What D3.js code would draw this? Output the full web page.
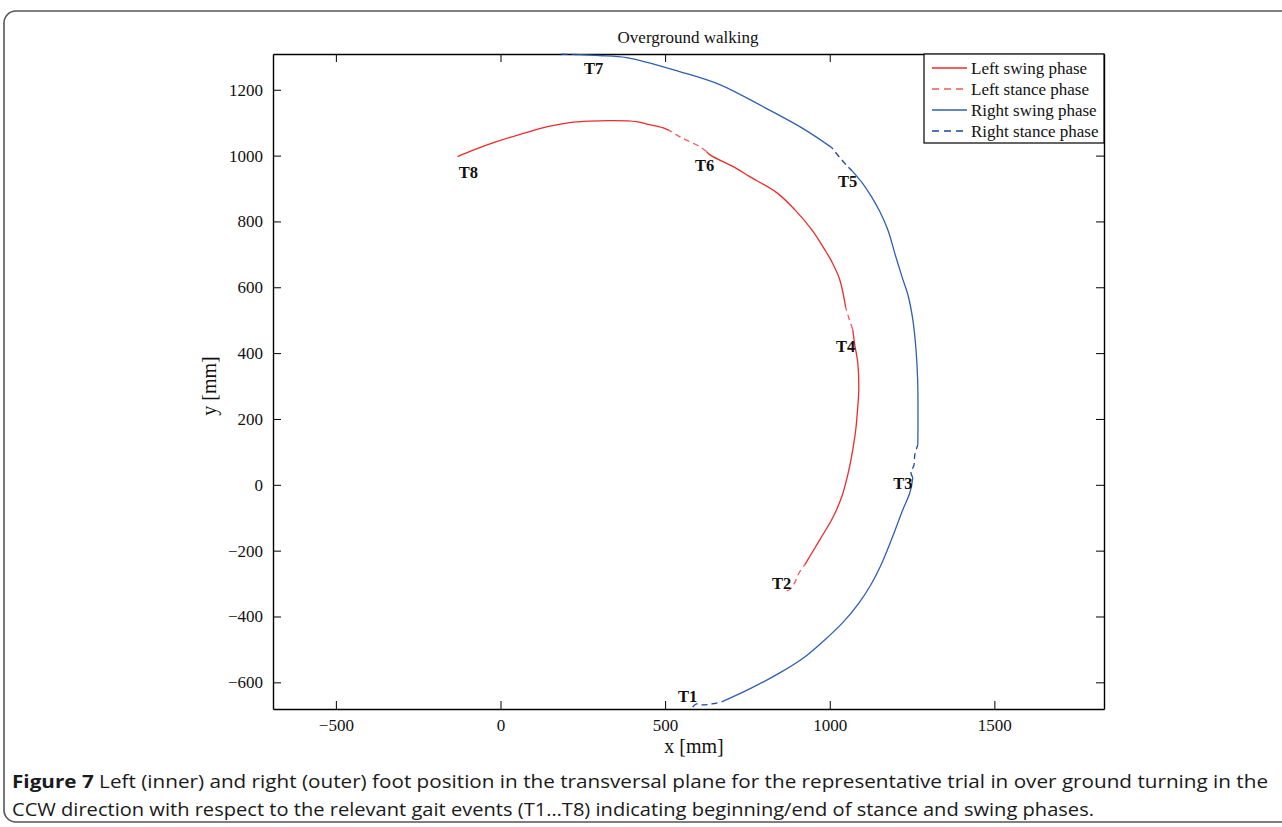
<!DOCTYPE html>
<html>
<head>
<meta charset="utf-8">
<script src="https://cdn.jsdelivr.net/npm/d3@7"></script>
<style>
  html, body { margin: 0; padding: 0; background: #fff; }
  svg { display: block; }
</style>
</head>
<body>
<svg id="chart" width="1282" height="827"></svg>
<script>
// ---------------- DATA (mm) ----------------
const xTicks = [-500, 0, 500, 1000, 1500];
const yTicks = [-600, -400, -200, 0, 200, 400, 600, 800, 1000, 1200];

// Left foot (inner, red) – segments in time order
const leftStance1 = [[869.3,-322.2],[881.5,-316.1],[893.6,-297.9],[899.7,-282.7],[908.8,-264.4],[924.0,-243.2]];
const leftSwing1  = [[924.0,-243.2],[969.6,-167.2],[1009.1,-100.3],[1036.4,-36.5],[1054.7,30.4],[1069.9,106.4],[1079.0,167.2],[1085.1,237.1],[1088.2,288.8],[1085.1,370.8],[1076.0,425.5],[1069.9,471.1]];
const leftStance2 = [[1069.9,471.1],[1057.8,507.6],[1048.6,538.0]];
const leftSwing2  = [[1048.6,538.0],[1030.4,623.1],[1006.1,677.8],[984.8,714.3],[945.3,775.1],[893.6,835.9],[838.9,887.5],[756.8,936.2],[717.3,960.5],[635.3,1003.0],[626.1,1012.2]];
const leftStance3 = [[626.1,1012.2],[604.9,1027.4],[574.5,1042.5],[544.1,1057.7],[513.7,1076.0]];
const leftSwing3  = [[513.7,1076.0],[492.4,1085.1],[452.9,1094.2],[413.4,1103.3],[340.4,1106.4],[270.5,1104.9],[209.7,1100.3],[142.9,1088.1],[88.1,1073.0],[-12.2,1042.5],[-79.0,1018.2],[-130.7,996.9]];

// Right foot (outer, blue)
const rightStance1 = [[583.6,-674.8],[595.7,-665.7],[610.9,-668.7],[641.3,-665.7],[671.7,-659.6]];
const rightSwing1  = [[671.7,-659.6],[756.8,-620.1],[848.0,-571.4],[924.0,-522.8],[984.8,-471.1],[1040.0,-418.0],[1088.0,-360.0],[1124.0,-305.0],[1155.0,-245.0],[1188.5,-164.1],[1221.9,-76.0],[1243.2,-24.3],[1252.3,21.3]];
const rightStance2 = [[1252.3,21.3],[1246.2,39.5],[1255.3,57.8],[1258.4,91.2],[1267.5,121.6]];
const rightSwing2  = [[1267.5,121.6],[1268.0,197.6],[1267.0,319.1],[1262.0,410.3],[1252.3,501.5],[1238.0,575.0],[1220.0,630.0],[1200.0,695.0],[1176.3,775.0],[1152.0,830.0],[1128.0,873.0],[1100.3,915.0],[1069.9,951.4]];
const rightStance3 = [[1069.9,951.4],[1054.7,966.6],[1030.4,993.9],[1006.1,1024.3]];
const rightSwing3  = [[1006.1,1024.3],[924.0,1079.0],[802.4,1145.9],[665.7,1215.8],[544.1,1255.3],[383.0,1297.9],[300.9,1304.0],[234.0,1307.0]];
const rightStance4 = [[234.0,1307.0],[179.3,1308.0]];

// Gait event labels
const eventNames = ["T1","T2","T3","T4","T5","T6","T7","T8"];
const eventX = [568.4, 854.1, 1221.9, 1048.6, 1054.7, 620.1, 282.7, -97.3];
const eventY = [-644.4, -300.9, 3.0, 419.5, 921.0, 969.6, 1264.4, 948.3];

const legendLabels = ["Left swing phase","Left stance phase","Right swing phase","Right stance phase"];

// ---------------- STYLE ----------------
const RED = "#ee2a2a", RED_D = "#f25a5a", BLUE = "#2f5fb0", BLUE_D = "#1d45a8";
const serif = "'Liberation Serif','Times New Roman',serif";

const svg = d3.select("#chart");
const L = 273, R = 1104, T = 54, B = 709;
const x = d3.scaleLinear().domain([-691, 1833]).range([L, R]);
const y = d3.scaleLinear().domain([-681, 1308.6]).range([B, T]);

// Outer figure frame
svg.append("rect").attr("x", 4).attr("y", 11).attr("width", 1300).attr("height", 811)
  .attr("rx", 12).attr("fill", "none").attr("stroke", "#555").attr("stroke-width", 1.6);

svg.append("clipPath").attr("id", "clip").append("rect")
  .attr("x", L).attr("y", T - 2).attr("width", R - L).attr("height", B - T + 2);

// Axes (MATLAB-style inward ticks, box on)
const tickLen = 8;
const fmt = d3.format("d");
const gx = svg.append("g").attr("transform", `translate(0,${B})`)
  .call(d3.axisBottom(x).tickValues(xTicks).tickFormat(fmt).tickSizeInner(-tickLen).tickSizeOuter(0).tickPadding(10));
const gxTop = svg.append("g").attr("transform", `translate(0,${T})`)
  .call(d3.axisTop(x).tickValues(xTicks).tickSizeInner(-tickLen).tickSizeOuter(0).tickFormat(""));
const gy = svg.append("g").attr("transform", `translate(${L},0)`)
  .call(d3.axisLeft(y).tickValues(yTicks).tickFormat(fmt).tickSizeInner(-tickLen).tickSizeOuter(0).tickPadding(10));
const gyR = svg.append("g").attr("transform", `translate(${R},0)`)
  .call(d3.axisRight(y).tickValues(yTicks).tickSizeInner(-tickLen).tickSizeOuter(0).tickFormat(""));

[gx, gxTop, gy, gyR].forEach(g => {
  g.select(".domain").attr("stroke", "#000").attr("stroke-width", 1.4);
  g.selectAll(".tick line").attr("stroke", "#000").attr("stroke-width", 1);
  g.selectAll("text").attr("font-family", serif).attr("font-size", 17).attr("fill", "#111");
});

// Curves
const line = d3.line().x(d => x(d[0])).y(d => y(d[1])).curve(d3.curveCatmullRom.alpha(0.5));
const plot = svg.append("g").attr("clip-path", "url(#clip)");
const segs = [
  [leftStance1, RED_D, true], [leftSwing1, RED, false], [leftStance2, RED_D, true],
  [leftSwing2, RED, false], [leftStance3, RED_D, true], [leftSwing3, RED, false],
  [rightStance1, BLUE_D, true], [rightSwing1, BLUE, false], [rightStance2, BLUE_D, true],
  [rightSwing2, BLUE, false], [rightStance3, BLUE_D, true], [rightSwing3, BLUE, false],
  [rightStance4, BLUE_D, true]
];
segs.forEach(([d, c, dashed]) => {
  plot.append("path").attr("d", line(d)).attr("fill", "none").attr("stroke", c)
    .attr("stroke-width", 1.3).attr("stroke-dasharray", dashed ? "6,4" : null);
});

// Event labels
svg.append("g").selectAll("text").data(eventNames).join("text")
  .attr("x", (d, i) => x(eventX[i])).attr("y", (d, i) => y(eventY[i]))
  .attr("text-anchor", "middle").attr("dominant-baseline", "central")
  .attr("font-family", serif).attr("font-weight", "bold").attr("font-size", 16.5).attr("fill", "#111")
  .text(d => d);

// Title and axis labels
svg.append("text").attr("x", 688).attr("y", 43).attr("text-anchor", "middle")
  .attr("font-family", serif).attr("font-size", 17).attr("fill", "#111").text("Overground walking");
svg.append("text").attr("x", 694).attr("y", 753).attr("text-anchor", "middle")
  .attr("font-family", serif).attr("font-size", 20).attr("fill", "#111").text("x [mm]");
svg.append("text").attr("transform", "translate(216,386) rotate(-90)").attr("text-anchor", "middle")
  .attr("font-family", serif).attr("font-size", 20).attr("fill", "#111").text("y [mm]");

// Legend
const lg = svg.append("g");
lg.append("rect").attr("x", 924).attr("y", T).attr("width", R - 924).attr("height", 89)
  .attr("fill", "#fff").attr("stroke", "#000").attr("stroke-width", 1.2);
const legColors = [RED, RED_D, BLUE, BLUE_D];
const legDash = [false, true, false, true];
legendLabels.forEach((t, i) => {
  const yy = 68 + i * 21;
  lg.append("line").attr("x1", 932).attr("x2", 967).attr("y1", yy).attr("y2", yy)
    .attr("stroke", legColors[i]).attr("stroke-width", 1.4)
    .attr("stroke-dasharray", legDash[i] ? "7,5" : null);
  lg.append("text").attr("x", 971).attr("y", yy).attr("dominant-baseline", "central")
    .attr("font-family", serif).attr("font-size", 17).attr("fill", "#111").text(t);
});

// Caption
const cap = "'Open Sans','Noto Sans',sans-serif";
const c1 = svg.append("text").attr("x", 12).attr("y", 788).attr("font-family", cap).attr("font-size", 18)
  .attr("fill", "#1a1a1a").attr("textLength", 1256).attr("lengthAdjust", "spacingAndGlyphs");
c1.append("tspan").attr("font-weight", "bold").text("Figure 7");
c1.append("tspan").text(" Left (inner) and right (outer) foot position in the transversal plane for the representative trial in over ground turning in the");
svg.append("text").attr("x", 12).attr("y", 816).attr("font-family", cap).attr("font-size", 18)
  .attr("fill", "#1a1a1a").attr("textLength", 1082).attr("lengthAdjust", "spacingAndGlyphs")
  .text("CCW direction with respect to the relevant gait events (T1…T8) indicating beginning/end of stance and swing phases.");
</script>
</body>
</html>
